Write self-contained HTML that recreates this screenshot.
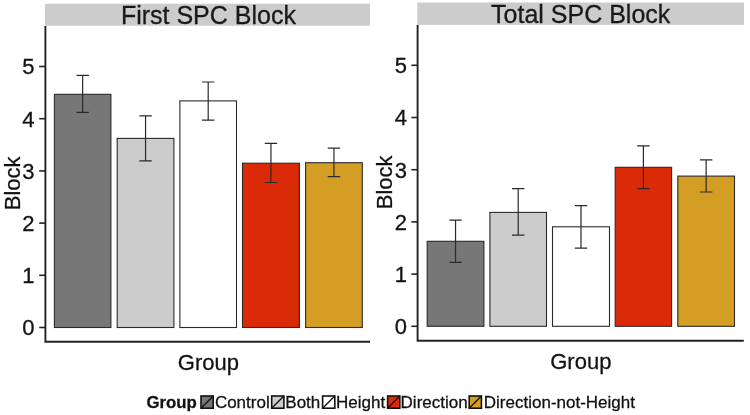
<!DOCTYPE html>
<html><head><meta charset="utf-8"><style>
html,body{margin:0;padding:0;background:#fff;}
svg{display:block;font-family:"Liberation Sans",sans-serif;-webkit-font-smoothing:antialiased;}
svg{will-change:transform;}
text{stroke:#111;stroke-width:0.28px;}
</style></head><body>
<svg width="750" height="415" viewBox="0 0 750 415">
<rect width="750" height="415" fill="#fff"/>
<rect x="45.0" y="3.7" width="325.0" height="22.0" fill="#cccccc"/>
<text x="208.4" y="23.6" text-anchor="middle" font-size="25" fill="#1a1a1a">First SPC Block</text>
<rect x="54.4" y="94.3" width="56.50000000000001" height="233.2" fill="#777777" stroke="#2a2a2a" stroke-width="1.1"/>
<rect x="117.2" y="138.4" width="56.7" height="189.1" fill="#cccccc" stroke="#2a2a2a" stroke-width="1.1"/>
<rect x="179.9" y="100.9" width="56.599999999999994" height="226.6" fill="#ffffff" stroke="#2a2a2a" stroke-width="1.1"/>
<rect x="242.5" y="163.2" width="56.89999999999998" height="164.3" fill="#da2a08" stroke="#2a2a2a" stroke-width="1.1"/>
<rect x="305.6" y="162.7" width="56.69999999999999" height="164.8" fill="#d49e24" stroke="#2a2a2a" stroke-width="1.1"/>
<path d="M76.45 75.4H88.85000000000001M82.65 75.4V112.3M76.45 112.3H88.85000000000001" stroke="#2a2a2a" stroke-width="1.2" fill="none"/>
<path d="M139.35000000000002 115.9H151.75M145.55 115.9V160.8M139.35000000000002 160.8H151.75" stroke="#2a2a2a" stroke-width="1.2" fill="none"/>
<path d="M202.0 82.0H214.39999999999998M208.2 82.0V120.1M202.0 120.1H214.39999999999998" stroke="#2a2a2a" stroke-width="1.2" fill="none"/>
<path d="M264.75 143.4H277.15M270.95 143.4V182.5M264.75 182.5H277.15" stroke="#2a2a2a" stroke-width="1.2" fill="none"/>
<path d="M327.75000000000006 148.1H340.15000000000003M333.95000000000005 148.1V176.7M327.75000000000006 176.7H340.15000000000003" stroke="#2a2a2a" stroke-width="1.2" fill="none"/>
<path d="M45.4 26.0V341.8H370.0" stroke="#222222" stroke-width="1.9" fill="none"/>
<path d="M39.199999999999996 327.50H45.4" stroke="#222222" stroke-width="1.6"/>
<text x="34.6" y="335.40" text-anchor="end" font-size="22" fill="#111">0</text>
<path d="M39.199999999999996 275.30H45.4" stroke="#222222" stroke-width="1.6"/>
<text x="34.6" y="283.20" text-anchor="end" font-size="22" fill="#111">1</text>
<path d="M39.199999999999996 223.10H45.4" stroke="#222222" stroke-width="1.6"/>
<text x="34.6" y="231.00" text-anchor="end" font-size="22" fill="#111">2</text>
<path d="M39.199999999999996 170.90H45.4" stroke="#222222" stroke-width="1.6"/>
<text x="34.6" y="178.80" text-anchor="end" font-size="22" fill="#111">3</text>
<path d="M39.199999999999996 118.70H45.4" stroke="#222222" stroke-width="1.6"/>
<text x="34.6" y="126.60" text-anchor="end" font-size="22" fill="#111">4</text>
<path d="M39.199999999999996 66.50H45.4" stroke="#222222" stroke-width="1.6"/>
<text x="34.6" y="74.40" text-anchor="end" font-size="22" fill="#111">5</text>
<text x="208.4" y="369.9" text-anchor="middle" font-size="22" fill="#111">Group</text>
<rect x="417.3" y="2.5" width="326.7" height="22.4" fill="#cccccc"/>
<text x="580.7" y="22.6" text-anchor="middle" font-size="25" fill="#1a1a1a">Total SPC Block</text>
<rect x="427.2" y="241.3" width="56.69999999999999" height="85.0" fill="#777777" stroke="#2a2a2a" stroke-width="1.1"/>
<rect x="489.9" y="212.4" width="56.60000000000002" height="113.9" fill="#cccccc" stroke="#2a2a2a" stroke-width="1.1"/>
<rect x="552.5" y="226.8" width="57.0" height="99.5" fill="#ffffff" stroke="#2a2a2a" stroke-width="1.1"/>
<rect x="615.2" y="167.3" width="56.39999999999998" height="159.0" fill="#da2a08" stroke="#2a2a2a" stroke-width="1.1"/>
<rect x="677.8" y="176.1" width="56.700000000000045" height="150.20000000000002" fill="#d49e24" stroke="#2a2a2a" stroke-width="1.1"/>
<path d="M449.34999999999997 220.1H461.74999999999994M455.54999999999995 220.1V262.3M449.34999999999997 262.3H461.74999999999994" stroke="#2a2a2a" stroke-width="1.2" fill="none"/>
<path d="M512.0 188.6H524.4000000000001M518.2 188.6V235.1M512.0 235.1H524.4000000000001" stroke="#2a2a2a" stroke-width="1.2" fill="none"/>
<path d="M574.8 205.6H587.2M581.0 205.6V248.1M574.8 248.1H587.2" stroke="#2a2a2a" stroke-width="1.2" fill="none"/>
<path d="M637.2 145.9H649.6000000000001M643.4000000000001 145.9V188.6M637.2 188.6H649.6000000000001" stroke="#2a2a2a" stroke-width="1.2" fill="none"/>
<path d="M699.9499999999999 159.9H712.35M706.15 159.9V192.0M699.9499999999999 192.0H712.35" stroke="#2a2a2a" stroke-width="1.2" fill="none"/>
<path d="M417.6 25.0V340.8H743.8" stroke="#222222" stroke-width="1.9" fill="none"/>
<path d="M411.40000000000003 326.30H417.6" stroke="#222222" stroke-width="1.6"/>
<text x="407.0" y="334.20" text-anchor="end" font-size="22" fill="#111">0</text>
<path d="M411.40000000000003 274.10H417.6" stroke="#222222" stroke-width="1.6"/>
<text x="407.0" y="282.00" text-anchor="end" font-size="22" fill="#111">1</text>
<path d="M411.40000000000003 221.90H417.6" stroke="#222222" stroke-width="1.6"/>
<text x="407.0" y="229.80" text-anchor="end" font-size="22" fill="#111">2</text>
<path d="M411.40000000000003 169.70H417.6" stroke="#222222" stroke-width="1.6"/>
<text x="407.0" y="177.60" text-anchor="end" font-size="22" fill="#111">3</text>
<path d="M411.40000000000003 117.50H417.6" stroke="#222222" stroke-width="1.6"/>
<text x="407.0" y="125.40" text-anchor="end" font-size="22" fill="#111">4</text>
<path d="M411.40000000000003 65.30H417.6" stroke="#222222" stroke-width="1.6"/>
<text x="407.0" y="73.20" text-anchor="end" font-size="22" fill="#111">5</text>
<text x="580.8" y="368.8" text-anchor="middle" font-size="22" fill="#111">Group</text>
<text transform="translate(19.9 183.4) rotate(-90)" text-anchor="middle" font-size="22" fill="#111">Block</text>
<text transform="translate(392.0 182.4) rotate(-90)" text-anchor="middle" font-size="22" fill="#111">Block</text>
<text x="146.4" y="408" font-size="16.8" font-weight="bold" fill="#111">Group</text>
<rect x="201.0" y="396" width="12.2" height="12.2" fill="#777777" stroke="#111" stroke-width="1.6"/>
<path d="M201.0 408.2L213.20000000000002 396" stroke="#111" stroke-width="1.3"/>
<text x="214.9" y="408" font-size="17" fill="#111">Control</text>
<rect x="271.7" y="396" width="12.2" height="12.2" fill="#cccccc" stroke="#111" stroke-width="1.6"/>
<path d="M271.7 408.2L283.9 396" stroke="#111" stroke-width="1.3"/>
<text x="285.3" y="408" font-size="17" fill="#111">Both</text>
<rect x="322.59999999999997" y="396" width="12.2" height="12.2" fill="#ffffff" stroke="#111" stroke-width="1.6"/>
<path d="M322.59999999999997 408.2L334.79999999999995 396" stroke="#111" stroke-width="1.3"/>
<text x="336.1" y="408" font-size="17" fill="#111">Height</text>
<rect x="387.59999999999997" y="396" width="12.2" height="12.2" fill="#da2a08" stroke="#111" stroke-width="1.6"/>
<path d="M387.59999999999997 408.2L399.79999999999995 396" stroke="#111" stroke-width="1.3"/>
<text x="400.6" y="408" font-size="17" fill="#111">Direction</text>
<rect x="469.2" y="396" width="12.2" height="12.2" fill="#d49e24" stroke="#111" stroke-width="1.6"/>
<path d="M469.2 408.2L481.4 396" stroke="#111" stroke-width="1.3"/>
<text x="483.8" y="408" font-size="17" fill="#111">Direction-not-Height</text>
</svg>
</body></html>
